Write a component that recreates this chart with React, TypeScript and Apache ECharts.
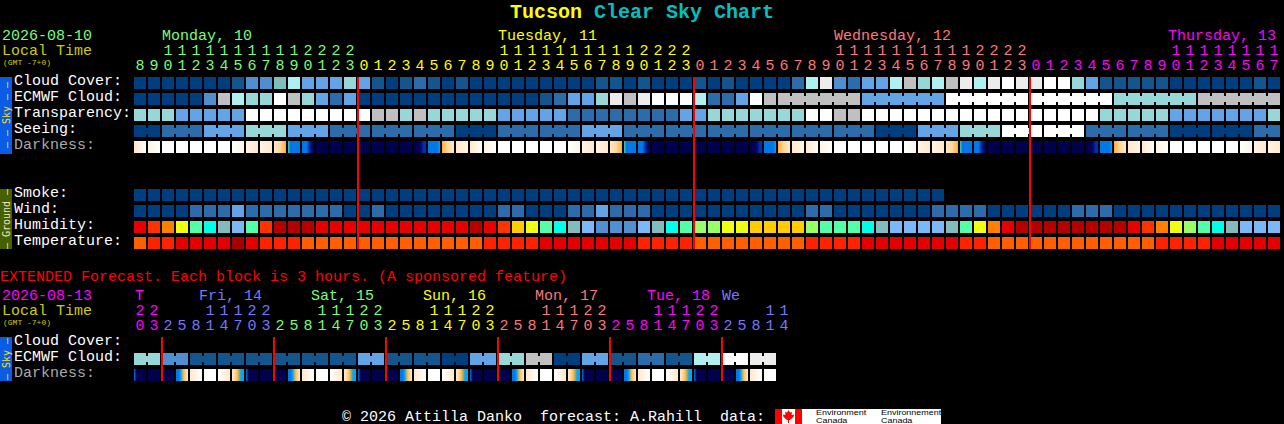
import React, { useEffect, useRef } from "react";
import * as echarts from "echarts";

const FONT = '"Liberation Mono"';

// ---------- axis categories ----------
const mainUnits = ["8","9","0","1","2","3","4","5","6","7","8","9","0","1","2","3","0","1","2","3","4","5","6","7","8","9","0","1","2","3","4","5","6","7","8","9","0","1","2","3","0","1","2","3","4","5","6","7","8","9","0","1","2","3","4","5","6","7","8","9","0","1","2","3","0","1","2","3","4","5","6","7","8","9","0","1","2","3","4","5","6","7"];
const mainTens = ["","","1","1","1","1","1","1","1","1","1","1","2","2","2","2","","","","","","","","","","","1","1","1","1","1","1","1","1","1","1","2","2","2","2","","","","","","","","","","","1","1","1","1","1","1","1","1","1","1","2","2","2","2","","","","","","","","","","","1","1","1","1","1","1","1","1"];
const extUnits = ["0","3","2","5","8","1","4","7","0","3","2","5","8","1","4","7","0","3","2","5","8","1","4","7","0","3","2","5","8","1","4","7","0","3","2","5","8","1","4","7","0","3","2","5","8","1","4"];
const extTens = ["2","2","","","","1","1","1","2","2","","","","1","1","1","2","2","","","","1","1","1","2","2","","","","1","1","1","2","2","","","","1","1","1","2","2","","","","1","1"];
const mainRows = ["Cloud Cover:","ECMWF Cloud:","Transparency:","Seeing:","Darkness:","","","Smoke:","Wind:","Humidity:","Temperature:"];
const extRows = ["Cloud Cover:","ECMWF Cloud:","Darkness:"];

// ---------- colours by day ----------
const GREEN = "#77ff77", YELLOW = "#ffff00", SALMON = "#ff7777", MAGENTA = "#ff00ff", BLUE = "#7777ff";
const mainDaySpans: [number, string][] = [[16, GREEN],[40, YELLOW],[64, SALMON],[82, MAGENTA]];
const extDaySpans: [number, string][] = [[2, MAGENTA],[10, BLUE],[18, GREEN],[26, YELLOW],[34, SALMON],[42, MAGENTA],[47, BLUE]];
const spanColor = (spans: [number, string][], i: number) => { for (const s of spans) if (i < s[0]) return s[1]; return "#fff"; };

// ---------- palettes ----------
const skyPalette = ["#003f7f","#13558f","#2c6cab","#4f8fd0","#63a4e6","#7fbcbc","#97d7d7","#aff0f0","#c0c0c0","#ececec","#ffffff"];
const humidityPalette = ["#508fd2","#7cb8f8","#82bcbc","#00ffe8","#55ffaa","#99ff66","#eeff11","#ffcc00","#ff8000","#ff3300","#e60000","#b40000"];
const temperaturePalette = ["#ff5f00","#ff2200","#e50000","#a80000"];
const darknessPalette = ["#00004f","#000a70","#0030a8","#0078e8","#00a8f0","#58c8a0","#f8b040","#ffd898","#ffe8c8","#fff4e6","#ffffff"];

// ---------- main forecast ----------
const cloudCover = [0,0,0,0,0,0,0,1,3,3,5,7,4,4,4,6,4,1,0,1,2,1,0,1,0,0,0,0,0,0,0,0,0,1,1,0,1,0,0,0,1,0,1,0,0,0,0,2,7,9,3,2,4,4,7,8,6,7,8,9,7,9,10,9,9,10,10,6,4,1,1,1,1,1,0,0,0,0,0,0,1,0];
const ecmwfCloud = [0,0,0,0,0,3,8,7,6,6,10,8,6,4,2,4,0,0,0,0,0,0,0,0,0,0,0,0,0,1,2,4,4,6,9,8,9,10,10,10,7,2,2,4,10,8,8,8,8,8,8,8,4,4,4,4,4,4,10,10,10,10,10,10,10,10,10,10,10,10,6,6,6,6,6,6,8,8,8,8,8,8];
const ecmwfBlocks = [46,6,6,6,6,6,6];
const transparency = [6,6,6,4,4,4,4,4,10,10,10,10,10,10,10,10,10,8,8,6,8,6,6,6,6,6,4,4,4,4,4,2,2,2,2,2,2,2,2,4,4,6,6,6,6,6,6,6,10,10,8,8,10,10,10,10,10,10,10,10,10,10,10,10,10,10,10,10,10,6,6,6,6,6,4,4,4,4,4,4,4,6];
const seeing = [0,0,2,2,2,4,4,4,6,6,6,4,4,4,2,2,2,2,2,2,2,2,2,0,0,0,2,2,2,2,2,2,4,4,4,2,2,2,2,2,2,2,2,2,2,2,2,2,2,2,2,2,2,0,0,0,4,4,4,6,6,6,10,10,10,10,10,10,2,2,2,2,2,2,0,0,0,0,0,0,2,2];
const seeingBlocks = [2,3,3,3,3,3,3,3,3,3,3,3,3,3,3,3,3,3,3,3,3,3,3,3,3,3,3,2];
const smoke = [0,0,0,0,0,0,0,0,0,0,0,0,0,0,0,0,0,0,0,0,0,0,0,0,0,0,0,0,0,0,0,0,0,0,0,0,0,0,0,0,0,0,0,0,0,0,0,0,0,0,0,0,0,0,0,0,0,0];
const wind = [0,0,0,0,2,2,2,4,2,2,2,2,2,2,2,0,0,2,0,0,0,0,0,0,0,0,2,2,0,0,0,2,2,4,2,2,2,0,0,0,0,0,0,0,0,0,0,0,2,2,0,0,0,0,0,0,0,2,2,2,2,0,0,0,0,0,0,2,2,2,0,0,0,0,0,0,0,0,0,0,0,0];
const humidity = [10,9,8,6,4,3,2,1,4,9,11,11,11,10,10,10,10,10,10,10,10,10,10,10,11,10,9,7,6,4,3,2,1,0,0,0,1,2,3,4,5,5,6,6,7,7,7,7,5,4,4,4,3,2,1,1,1,1,2,4,6,8,10,11,11,11,11,11,11,11,11,10,9,8,6,5,4,3,2,1,1,1];
const temperature = [0,1,1,2,2,2,2,3,2,1,1,1,0,0,0,0,0,0,0,0,0,0,0,0,0,1,1,1,1,2,2,2,2,2,2,2,1,1,1,1,0,0,0,0,0,0,0,0,1,1,1,1,2,2,2,2,2,2,2,1,1,0,0,0,0,0,0,0,0,0,0,0,0,1,1,1,1,2,2,2,2,2];
const darkness = [[8,10],[9,10],[10],[10],[10],[10],[10],[10,9],[9,8],[9,8],[8,7,6],[5,3,3,3,3,3],[3,3,3,2,1,0],[0],[0],[0],[0],[0],[0],[0],[0,0,0,1,2,2],[3,3,3,3,3,4],[6,7,8],[8,9],[8,10],[9,10],[10],[10],[10],[10],[10],[10,9],[9,8],[9,8],[8,7,6],[5,3,3,3,3,3],[3,3,3,2,1,0],[0],[0],[0],[0],[0],[0],[0],[0,0,0,1,2,2],[3,3,3,3,3,4],[6,7,8],[8,9],[8,10],[9,10],[10],[10],[10],[10],[10],[10,9],[9,8],[9,8],[8,7,6],[5,3,3,3,3,3],[3,3,3,2,1,0],[0],[0],[0],[0],[0],[0],[0],[0,0,0,1,2,2],[3,3,3,3,3,4],[6,7,8],[8,9],[8,10],[9,10],[10],[10],[10],[10],[10],[10,9],[9,8],[9,8]];
const mainMidnights = [16, 40, 64];

// ---------- extended forecast ----------
const extEcmwf = [6,6,3,3,1,1,1,1,1,1,1,1,1,1,1,1,4,4,1,1,1,1,0,0,4,4,6,6,8,8,0,0,4,4,1,1,2,2,1,1,7,7,10,10,9,9];
const extBlocks = [2,2,2,2,2,2,2,2,2,2,2,2,2,2,2,2,2,2,2,2,2,2,2];
const extDarkness = [[3,0,0,0,0,0],[0],[0],[3,3,4,6,7,8],[8,9,10],[10],[10,9,8],[8,7,6,4,4],[3,0,0,0,0,0],[0],[0],[3,3,4,6,7,8],[8,9,10],[10],[10,9,8],[8,7,6,4,4],[3,0,0,0,0,0],[0],[0],[3,3,4,6,7,8],[8,9,10],[10],[10,9,8],[8,7,6,4,4],[3,0,0,0,0,0],[0],[0],[3,3,4,6,7,8],[8,9,10],[10],[10,9,8],[8,7,6,4,4],[3,0,0,0,0,0],[0],[0],[3,3,4,6,7,8],[8,9,10],[10],[10,9,8],[8,7,6,4,4],[3,0,0,0,0,0],[0],[0],[3,3,4,6,7,8],[8,9,10],[10]];
const extMidnights = [2, 10, 18, 26, 34, 42];

// ---------- series builders ----------
const CELL = 12, JOIN_H = 6;

function blockRow(name: string, row: number, values: number[], palette: string[], grid: number, blocks?: number[]) {
  const joined = new Set<number>();
  if (blocks && blocks.length) {
    let at = 0;
    blocks.forEach((n, bi) => {
      if (!(bi === 0 && n > 6)) for (let k = at; k < at + n - 1; k++) joined.add(k);
      at += n;
    });
  }
  return {
    type: "custom", name, coordinateSystem: "cartesian2d", xAxisIndex: grid === 0 ? 0 : 2, yAxisIndex: grid,
    silent: true, clip: false, encode: { x: 0, y: 1 },
    data: values.map((v, i) => [i, row, v]),
    renderItem: (_: any, api: any) => {
      const col = api.value(0);
      const [cx, cy] = api.coord([col, api.value(1)]);
      const fill = palette[api.value(2)];
      const children: any[] = [{ type: "rect", shape: { x: cx - CELL / 2, y: cy - CELL / 2, width: CELL, height: CELL }, style: { fill } }];
      if (joined.has(col)) children.push({ type: "rect", shape: { x: cx + CELL / 2, y: cy - JOIN_H / 2, width: 2, height: JOIN_H }, style: { fill } });
      return { type: "group", children };
    },
  };
}

function darknessRow(row: number, samples: number[][], grid: number) {
  return {
    type: "custom", name: "Darkness", coordinateSystem: "cartesian2d", xAxisIndex: grid === 0 ? 0 : 2, yAxisIndex: grid,
    silent: true, clip: false, encode: { x: 0, y: 1 },
    data: samples.map((_, i) => [i, row, samples[i][0]]),
    renderItem: (params: any, api: any) => {
      const [cx, cy] = api.coord([api.value(0), api.value(1)]);
      const s = samples[params.dataIndex];
      const fill = s.length === 1
        ? darknessPalette[s[0]]
        : new echarts.graphic.LinearGradient(0, 0, 1, 0, s.map((lv, k) => ({ offset: k / (s.length - 1), color: darknessPalette[lv] })));
      return { type: "rect", shape: { x: cx - CELL / 2, y: cy - CELL / 2, width: CELL, height: CELL }, style: { fill } };
    },
  };
}

function midnightLines(cols: number[], fromRow: number, toRow: number, grid: number) {
  return {
    type: "custom", name: "Midnight", coordinateSystem: "cartesian2d", xAxisIndex: grid === 0 ? 0 : 2, yAxisIndex: grid,
    silent: true, clip: false, z: 5, encode: { x: 0, y: 1 },
    data: cols.map((c) => [c, fromRow, toRow]),
    renderItem: (_: any, api: any) => {
      const [cx, y0] = api.coord([api.value(0), api.value(1)]);
      const [, y1] = api.coord([api.value(0), api.value(2)]);
      return { type: "rect", shape: { x: cx - CELL / 2 - 1, y: y0 - CELL / 2, width: 2, height: y1 - y0 + CELL }, style: { fill: "#ff0000" } };
    },
  };
}

function xAxisOf(grid: number, data: string[], spans: [number, string][], offset: number) {
  return {
    type: "category", gridIndex: grid, position: "top", offset, data, boundaryGap: true,
    axisLine: { show: false }, axisTick: { show: false }, splitLine: { show: false },
    axisLabel: { show: true, interval: 0, margin: 2, fontFamily: FONT, fontSize: 15, lineHeight: 13, color: (_: any, i: number) => spanColor(spans, i) },
  };
}
function yAxisOf(grid: number, data: string[]) {
  return {
    type: "category", gridIndex: grid, inverse: true, data,
    axisLine: { show: false }, axisTick: { show: false }, splitLine: { show: false },
    axisLabel: { show: true, interval: 0, align: "left", verticalAlign: "bottom", margin: 119, lineHeight: 4, fontFamily: FONT, fontSize: 15, color: (v: string) => (v === "Darkness:" ? "#aaaaaa" : "#ffffff") },
  };
}

const txt = (text: string, x: number, y: number, fill: string, font: string, extra: any = {}) => ({
  type: "text", x, y, silent: true, ...extra,
  style: { text, fill, font, align: "left", verticalAlign: "middle", ...(extra.style || {}) },
});
const F15 = `15px ${FONT}`;

const graphics: any[] = [
  txt("Tucson", 510, 12, "#ffff00", `bold 20px ${FONT}`),
  txt("Clear Sky Chart", 594, 12, "#00c0c0", `bold 20px ${FONT}`),
  txt("2026-08-10", 2, 36, GREEN, F15),
  txt("Local Time", 2, 51, "#cccc00", F15),
  txt("(GMT -7+0)", 3, 62, "#cccc00", `8px ${FONT}`),
  txt("Monday, 10", 162, 36, GREEN, F15),
  txt("Tuesday, 11", 498, 36, YELLOW, F15),
  txt("Wednesday, 12", 834, 36, SALMON, F15),
  txt("Thursday, 13", 1168, 36, MAGENTA, F15),
  txt("EXTENDED Forecast. Each block is 3 hours. (A sponsored feature)", 0, 277, "#ff0000", F15),
  txt("2026-08-13", 2, 296, MAGENTA, F15),
  txt("Local Time", 2, 311, "#cccc00", F15),
  txt("(GMT -7+0)", 3, 322, "#cccc00", `8px ${FONT}`),
  txt("T", 135, 296, MAGENTA, F15),
  txt("Fri, 14", 199, 296, BLUE, F15),
  txt("Sat, 15", 311, 296, GREEN, F15),
  txt("Sun, 16", 423, 296, YELLOW, F15),
  txt("Mon, 17", 535, 296, SALMON, F15),
  txt("Tue, 18", 647, 296, MAGENTA, F15),
  txt("We", 722, 296, BLUE, F15),
  txt("© 2026 Attilla Danko  forecast: A.Rahill  data:", 342, 417, "#ffffff", F15),
  { type: "rect", silent: true, shape: { x: 0, y: 77, width: 12, height: 77 }, style: { fill: "#0a5ce6" } },
  { type: "rect", silent: true, shape: { x: 0, y: 189, width: 12, height: 60 }, style: { fill: "#466000" } },
  { type: "rect", silent: true, shape: { x: 0, y: 337, width: 12, height: 44 }, style: { fill: "#0a5ce6" } },
  txt("– – Sky – –", 6, 115, "#ffe000", `10px "DejaVu Sans Mono"`, { rotation: Math.PI / 2, style: { align: "center" } }),
  txt("– Ground –", 6, 219, "#e8e8c8", `10px "DejaVu Sans Mono"`, { rotation: Math.PI / 2, style: { align: "center" } }),
  txt("– Sky –", 6, 359, "#ffe000", `10px "DejaVu Sans Mono"`, { rotation: Math.PI / 2, style: { align: "center" } }),
  // data-source logo strip
  { type: "rect", silent: true, shape: { x: 775, y: 409, width: 166, height: 15 }, style: { fill: "#ffffff" } },
  { type: "rect", silent: true, shape: { x: 775, y: 409, width: 7, height: 15 }, style: { fill: "#ff0000" } },
  { type: "rect", silent: true, shape: { x: 795, y: 409, width: 7, height: 15 }, style: { fill: "#ff0000" } },
  { type: "polygon", silent: true, shape: { points: [[788.5,410],[790,412.5],[792,412],[791.5,415],[794,414.5],[793.5,417],[790,420],[789,420],[789,423],[788,423],[788,420],[787,420],[783.5,417],[783,414.5],[785.5,415],[785,412],[787,412.5]] }, style: { fill: "#ff0000" } },
  txt("Environment", 816, 412.5, "#000000", `8px "Liberation Sans"`, { scaleX: 1.12 }),
  txt("Canada", 816, 420.5, "#000000", `8px "Liberation Sans"`, { scaleX: 1.12 }),
  txt("Environnement", 881, 412.5, "#000000", `8px "Liberation Sans"`, { scaleX: 1.12 }),
  txt("Canada", 881, 420.5, "#000000", `8px "Liberation Sans"`, { scaleX: 1.12 }),
];

const option: any = {
  animation: false,
  backgroundColor: "#000000",
  grid: [
    { left: 133, top: 75, width: mainUnits.length * 14, height: mainRows.length * 16 },
    { left: 133, top: 335, width: extUnits.length * 14, height: extRows.length * 16 },
  ],
  xAxis: [
    xAxisOf(0, mainUnits, mainDaySpans, 0),
    xAxisOf(0, mainTens, mainDaySpans, 15),
    xAxisOf(1, extUnits, extDaySpans, 0),
    xAxisOf(1, extTens, extDaySpans, 15),
  ],
  yAxis: [yAxisOf(0, mainRows), yAxisOf(1, extRows)],
  graphic: graphics,
  series: [
    blockRow("Cloud Cover", 0, cloudCover, skyPalette, 0),
    blockRow("ECMWF Cloud", 1, ecmwfCloud, skyPalette, 0, ecmwfBlocks),
    blockRow("Transparency", 2, transparency, skyPalette, 0),
    blockRow("Seeing", 3, seeing, skyPalette, 0, seeingBlocks),
    darknessRow(4, darkness, 0),
    blockRow("Smoke", 7, smoke, skyPalette, 0),
    blockRow("Wind", 8, wind, skyPalette, 0),
    blockRow("Humidity", 9, humidity, humidityPalette, 0),
    blockRow("Temperature", 10, temperature, temperaturePalette, 0),
    midnightLines(mainMidnights, 0, 10, 0),
    blockRow("Extended ECMWF Cloud", 1, extEcmwf, skyPalette, 1, extBlocks),
    darknessRow(2, extDarkness, 1),
    midnightLines(extMidnights, 0, 2, 1),
  ],
};

export default function App() {
  const ref = useRef<HTMLDivElement>(null);
  useEffect(() => {
    document.body.style.margin = "0";
    document.body.style.background = "#000";
    const chart = echarts.init(ref.current!, undefined, { renderer: "svg" });
    chart.setOption(option);
    return () => chart.dispose();
  }, []);
  return <div ref={ref} style={{ width: 1284, height: 424 }} />;
}
